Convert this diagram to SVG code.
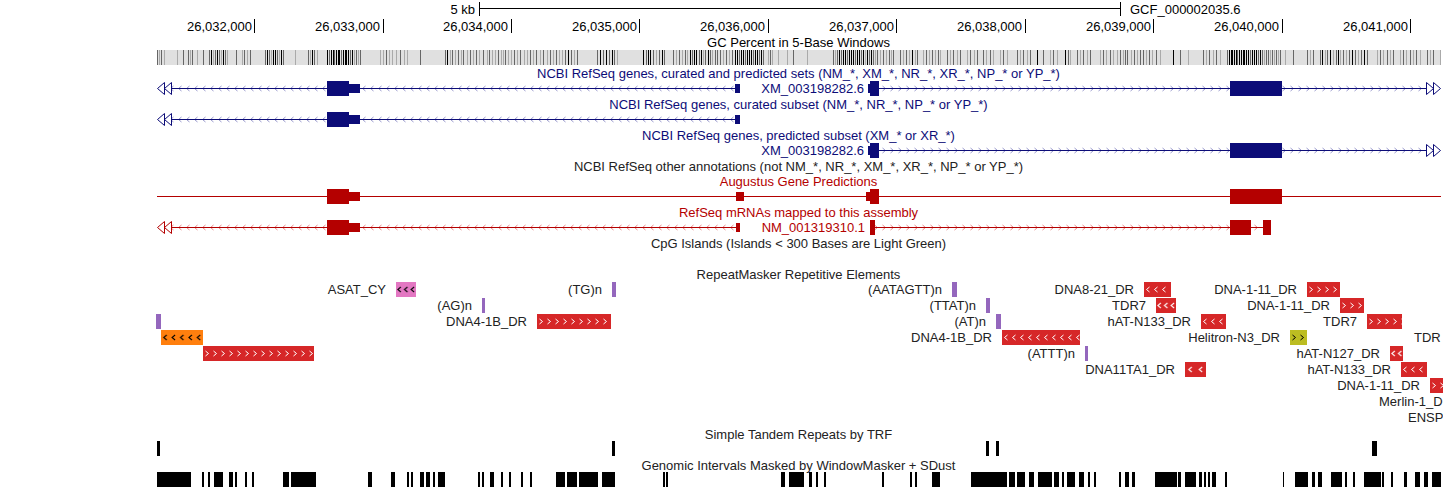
<svg xmlns="http://www.w3.org/2000/svg" width="1443" height="488" viewBox="0 0 1443 488">
<style>
.t{font-family:"Liberation Sans",Arial,Helvetica,sans-serif;font-size:13px}
.c{text-anchor:middle}
.e{text-anchor:end}
.nv{fill:#0c0c78}
.rd{fill:#b40000}
.bk{fill:#000}
.dk{fill:#222}
.rR{fill:#d62728}
.pu{fill:#9467bd}
.pk{fill:#e377c2}
.or{fill:#ff7f0e}
.ol{fill:#bcbd22}
</style>
<defs>
<pattern id="cLb" patternUnits="userSpaceOnUse" x="0" y="-4" width="8" height="9"><path d="M5.5,2L2.5,4.5L5.5,7" fill="none" stroke="#9898cc"/></pattern>
<pattern id="cRb" patternUnits="userSpaceOnUse" x="0" y="-4" width="8" height="9"><path d="M2.5,2L5.5,4.5L2.5,7" fill="none" stroke="#9898cc"/></pattern>
<pattern id="cLr" patternUnits="userSpaceOnUse" x="0" y="-4" width="8" height="9"><path d="M5.5,2L2.5,4.5L5.5,7" fill="none" stroke="#e88888"/></pattern>
<pattern id="cRr" patternUnits="userSpaceOnUse" x="0" y="-4" width="8" height="9"><path d="M2.5,2L5.5,4.5L2.5,7" fill="none" stroke="#e88888"/></pattern>
<pattern id="wR" patternUnits="userSpaceOnUse" x="0" y="0" width="8" height="15"><path d="M2.5,5L5.5,7.5L2.5,10" fill="none" stroke="#fff"/></pattern>
<pattern id="wL" patternUnits="userSpaceOnUse" x="0" y="0" width="8" height="15"><path d="M5.5,5L2.5,7.5L5.5,10" fill="none" stroke="#fff"/></pattern>
<pattern id="wL7" patternUnits="userSpaceOnUse" x="0" y="0" width="6.67" height="15"><path d="M4.8,5L1.8,7.5L4.8,10" fill="none" stroke="#fff"/></pattern>
<pattern id="wL10" patternUnits="userSpaceOnUse" x="0" y="0" width="10.5" height="15"><path d="M6.75,5L3.75,7.5L6.75,10" fill="none" stroke="#fff"/></pattern>
<pattern id="kR" patternUnits="userSpaceOnUse" x="0" y="0" width="8" height="15"><path d="M2.5,5L5.5,7.5L2.5,10" fill="none" stroke="#000"/></pattern>
<pattern id="kL" patternUnits="userSpaceOnUse" x="0" y="0" width="8.4" height="15"><path d="M5.7,5L2.7,7.5L5.7,10" fill="none" stroke="#000"/></pattern>
<pattern id="kL7" patternUnits="userSpaceOnUse" x="0" y="0" width="6.67" height="15"><path d="M4.8,5L1.8,7.5L4.8,10" fill="none" stroke="#000"/></pattern>
</defs>
<rect width="1443" height="488" fill="#fff"/>

<g id="ruler">
<text x="475" y="14" class="t e bk">5 kb</text>
<path d="M479.5,2v14M1120.5,2v14M479.5,8.5H1120.5" stroke="#000" fill="none"/>
<text x="1130" y="14" class="t bk">GCF_000002035.6</text>
<path d="M254.5,19v14M383.5,19v14M511.5,19v14M639.5,19v14M768.5,19v14M896.5,19v14M1025.5,19v14M1153.5,19v14M1282.5,19v14M1410.5,19v14" stroke="#000"/>
<text x="252" y="31" class="t e bk">26,032,000</text>
<text x="380" y="31" class="t e bk">26,033,000</text>
<text x="508" y="31" class="t e bk">26,034,000</text>
<text x="637" y="31" class="t e bk">26,035,000</text>
<text x="765" y="31" class="t e bk">26,036,000</text>
<text x="894" y="31" class="t e bk">26,037,000</text>
<text x="1022" y="31" class="t e bk">26,038,000</text>
<text x="1151" y="31" class="t e bk">26,039,000</text>
<text x="1279" y="31" class="t e bk">26,040,000</text>
<text x="1408" y="31" class="t e bk">26,041,000</text>
</g>

<g id="gc-percent">
<text x="798.5" y="47" class="t c bk">GC Percent in 5-Base Windows</text>
<rect x="157" y="50" width="1284" height="15" fill="#e0e0e0"/>
<path stroke="#aaa" fill="none" d="M159.5,50v15M164.5,50v15M177.5,50v15M190.5,50v15M197.5,50v15M213.5,50v15M221.5,50v15M227.5,50v15M242.5,50v15M247.5,50v15M271.5,50v15M279.5,50v15M295.5,50v15M310.5,50v15M317.5,50v15M354.5,50v15M358.5,50v15M380.5,50v15M383.5,50v15M389.5,50v15M392.5,50v15M396.5,50v15M404.5,50v15M407.5,50v15M450.5,50v15M455.5,50v15M461.5,50v15M467.5,50v15M473.5,50v15M479.5,50v15M487.5,50v15M492.5,50v15M495.5,50v15M501.5,50v15M503.5,50v15M508.5,50v15M511.5,50v15M517.5,50v15M524.5,50v15M527.5,50v15M533.5,50v15M540.5,50v15M547.5,50v15M553.5,50v15M559.5,50v15M562.5,50v15M574.5,50v15M617.5,50v15M656.5,50v15M676.5,50v15M682.5,50v15M687.5,50v15M703.5,50v15M712.5,50v15M723.5,50v15M729.5,50v15M768.5,50v15M772.5,50v15M778.5,50v15M787.5,50v15M807.5,50v15M835.5,50v15M865.5,50v15M875.5,50v15M880.5,50v15M886.5,50v15M891.5,50v15M903.5,50v15M909.5,50v15M915.5,50v15M923.5,50v15M929.5,50v15M935.5,50v15M940.5,50v15M950.5,50v15M957.5,50v15M967.5,50v15M974.5,50v15M986.5,50v15M993.5,50v15M1000.5,50v15M1007.5,50v15M1020.5,50v15M1027.5,50v15M1050.5,50v15M1057.5,50v15M1070.5,50v15M1080.5,50v15M1087.5,50v15M1100.5,50v15M1106.5,50v15M1113.5,50v15M1117.5,50v15M1123.5,50v15M1131.5,50v15M1137.5,50v15M1146.5,50v15M1152.5,50v15M1160.5,50v15M1188.5,50v15M1206.5,50v15M1213.5,50v15M1220.5,50v15M1264.5,50v15M1270.5,50v15M1274.5,50v15M1278.5,50v15M1285.5,50v15M1310.5,50v15M1325.5,50v15M1333.5,50v15M1340.5,50v15M1346.5,50v15M1358.5,50v15M1377.5,50v15M1383.5,50v15M1390.5,50v15M1400.5,50v15M1406.5,50v15M1413.5,50v15M1420.5,50v15M1430.5,50v15M1440.5,50v15"/>
<path stroke="#666" fill="none" d="M157.5,50v15M161.5,50v15M183.5,50v15M188.5,50v15M192.5,50v15M203.5,50v15M209.5,50v15M215.5,50v15M219.5,50v15M225.5,50v15M236.5,50v15M244.5,50v15M250.5,50v15M265.5,50v15M269.5,50v15M277.5,50v15M283.5,50v15M308.5,50v15M314.5,50v15M329.5,50v15M334.5,50v15M341.5,50v15M350.5,50v15M356.5,50v15M360.5,50v15M386.5,50v15M400.5,50v15M420.5,50v15M445.5,50v15M452.5,50v15M458.5,50v15M463.5,50v15M470.5,50v15M476.5,50v15M483.5,50v15M489.5,50v15M498.5,50v15M505.5,50v15M514.5,50v15M520.5,50v15M530.5,50v15M536.5,50v15M543.5,50v15M550.5,50v15M556.5,50v15M565.5,50v15M571.5,50v15M577.5,50v15M597.5,50v15M603.5,50v15M609.5,50v15M614.5,50v15M646.5,50v15M653.5,50v15M659.5,50v15M664.5,50v15M673.5,50v15M679.5,50v15M685.5,50v15M692.5,50v15M699.5,50v15M705.5,50v15M710.5,50v15M715.5,50v15M717.5,50v15M720.5,50v15M726.5,50v15M732.5,50v15M739.5,50v15M745.5,50v15M753.5,50v15M759.5,50v15M763.5,50v15M770.5,50v15M793.5,50v15M833.5,50v15M837.5,50v15M841.5,50v15M847.5,50v15M855.5,50v15M861.5,50v15M869.5,50v15M873.5,50v15M877.5,50v15M883.5,50v15M889.5,50v15M893.5,50v15M900.5,50v15M906.5,50v15M917.5,50v15M926.5,50v15M932.5,50v15M938.5,50v15M947.5,50v15M953.5,50v15M960.5,50v15M970.5,50v15M977.5,50v15M983.5,50v15M990.5,50v15M1003.5,50v15M1017.5,50v15M1023.5,50v15M1030.5,50v15M1043.5,50v15M1053.5,50v15M1068.5,50v15M1077.5,50v15M1083.5,50v15M1090.5,50v15M1103.5,50v15M1110.5,50v15M1120.5,50v15M1125.5,50v15M1127.5,50v15M1134.5,50v15M1140.5,50v15M1143.5,50v15M1149.5,50v15M1156.5,50v15M1180.5,50v15M1203.5,50v15M1209.5,50v15M1216.5,50v15M1227.5,50v15M1237.5,50v15M1250.5,50v15M1258.5,50v15M1262.5,50v15M1266.5,50v15M1268.5,50v15M1272.5,50v15M1276.5,50v15M1280.5,50v15M1293.5,50v15M1307.5,50v15M1313.5,50v15M1320.5,50v15M1327.5,50v15M1336.5,50v15M1343.5,50v15M1349.5,50v15M1355.5,50v15M1361.5,50v15M1367.5,50v15M1380.5,50v15M1387.5,50v15M1393.5,50v15M1403.5,50v15M1410.5,50v15M1416.5,50v15M1427.5,50v15M1433.5,50v15"/>
<path stroke="#000" fill="none" d="M211.5,50v15M217.5,50v15M223.5,50v15M267.5,50v15M273.5,50v15M275.5,50v15M281.5,50v15M312.5,50v15M327.5,50v15M331.5,50v15M333.5,50v15M336.5,50v15M338.5,50v15M339.5,50v15M343.5,50v15M345.5,50v15M346.5,50v15M348.5,50v15M352.5,50v15M447.5,50v15M568.5,50v15M600.5,50v15M606.5,50v15M612.5,50v15M643.5,50v15M648.5,50v15M650.5,50v15M662.5,50v15M690.5,50v15M694.5,50v15M696.5,50v15M701.5,50v15M708.5,50v15M735.5,50v15M737.5,50v15M741.5,50v15M743.5,50v15M747.5,50v15M749.5,50v15M751.5,50v15M755.5,50v15M757.5,50v15M761.5,50v15M839.5,50v15M843.5,50v15M845.5,50v15M849.5,50v15M851.5,50v15M853.5,50v15M857.5,50v15M859.5,50v15M863.5,50v15M867.5,50v15M871.5,50v15M912.5,50v15M1037.5,50v15M1065.5,50v15M1173.5,50v15M1229.5,50v15M1231.5,50v15M1232.5,50v15M1234.5,50v15M1236.5,50v15M1239.5,50v15M1241.5,50v15M1243.5,50v15M1244.5,50v15M1246.5,50v15M1248.5,50v15M1252.5,50v15M1254.5,50v15M1256.5,50v15M1260.5,50v15M1322.5,50v15M1330.5,50v15M1338.5,50v15M1352.5,50v15M1364.5,50v15"/>
</g>

<g id="refseq-all">
<text x="798.5" y="78" class="t c nv">NCBI RefSeq genes, curated and predicted sets (NM_*, XM_*, NR_*, XR_*, NP_* or YP_*)</text>
<g transform="translate(0,88)">
<rect x="171" y="-4" width="564" height="9" fill="url(#cLb)"/>
<rect x="171" y="0" width="564" height="1" class="nv"/>
<path d="M164.5,-5.5L157.5,0.5L164.5,6.5ZM171.5,-5.5L164.5,0.5L171.5,6.5Z" fill="#fff" stroke="#0c0c78"/>
<rect x="327" y="-7" width="22" height="15" class="nv"/>
<rect x="349" y="-4" width="11" height="9" class="nv"/>
<rect x="735" y="-4" width="5" height="9" class="nv"/>
<text x="864" y="5" class="t e nv">XM_003198282.6</text>
<rect x="879" y="-4" width="547" height="9" fill="url(#cRb)"/>
<rect x="879" y="0" width="547" height="1" class="nv"/>
<rect x="868" y="-4" width="2" height="9" class="nv"/>
<rect x="870" y="-7" width="9" height="15" class="nv"/>
<rect x="1230" y="-7" width="52" height="15" class="nv"/>
<path d="M1426.5,-5.5L1433.5,0.5L1426.5,6.5ZM1433.5,-5.5L1440.5,0.5L1433.5,6.5Z" fill="#fff" stroke="#0c0c78"/>
</g>
</g>

<g id="refseq-curated">
<text x="798.5" y="109" class="t c nv">NCBI RefSeq genes, curated subset (NM_*, NR_*, NP_* or YP_*)</text>
<g transform="translate(0,119)">
<rect x="171" y="-4" width="564" height="9" fill="url(#cLb)"/>
<rect x="171" y="0" width="564" height="1" class="nv"/>
<path d="M164.5,-5.5L157.5,0.5L164.5,6.5ZM171.5,-5.5L164.5,0.5L171.5,6.5Z" fill="#fff" stroke="#0c0c78"/>
<rect x="327" y="-7" width="22" height="15" class="nv"/>
<rect x="349" y="-4" width="11" height="9" class="nv"/>
<rect x="735" y="-4" width="5" height="9" class="nv"/>
</g>
</g>

<g id="refseq-predicted">
<text x="798.5" y="140" class="t c nv">NCBI RefSeq genes, predicted subset (XM_* or XR_*)</text>
<g transform="translate(0,150)">
<text x="864" y="5" class="t e nv">XM_003198282.6</text>
<rect x="879" y="-4" width="547" height="9" fill="url(#cRb)"/>
<rect x="879" y="0" width="547" height="1" class="nv"/>
<rect x="868" y="-4" width="2" height="9" class="nv"/>
<rect x="870" y="-7" width="9" height="15" class="nv"/>
<rect x="1230" y="-7" width="52" height="15" class="nv"/>
<path d="M1426.5,-5.5L1433.5,0.5L1426.5,6.5ZM1433.5,-5.5L1440.5,0.5L1433.5,6.5Z" fill="#fff" stroke="#0c0c78"/>
</g>
</g>

<g id="refseq-other">
<text x="798.5" y="171" class="t c dk">NCBI RefSeq other annotations (not NM_*, NR_*, XM_*, XR_*, NP_* or YP_*)</text>
</g>

<g id="augustus">
<text x="798.5" y="186" class="t c rd">Augustus Gene Predictions</text>
<g transform="translate(0,196)">
<rect x="157" y="0" width="1284" height="1" class="rd"/>
<rect x="327" y="-7" width="22" height="15" class="rd"/>
<rect x="349" y="-4" width="11" height="9" class="rd"/>
<rect x="736" y="-4" width="8" height="9" class="rd"/>
<rect x="866" y="-4" width="4" height="9" class="rd"/>
<rect x="870" y="-7" width="9" height="15" class="rd"/>
<rect x="1230" y="-7" width="52" height="15" class="rd"/>
</g>
</g>

<g id="refseq-mrna">
<text x="798.5" y="217" class="t c rd">RefSeq mRNAs mapped to this assembly</text>
<g transform="translate(0,227)">
<rect x="171" y="-4" width="565" height="9" fill="url(#cLr)"/>
<rect x="171" y="0" width="565" height="1" class="rd"/>
<path d="M164.5,-5.5L157.5,0.5L164.5,6.5ZM171.5,-5.5L164.5,0.5L171.5,6.5Z" fill="#fff" stroke="#b40000"/>
<rect x="327" y="-7" width="22" height="15" class="rd"/>
<rect x="349" y="-4" width="11" height="9" class="rd"/>
<rect x="736" y="-4" width="4" height="9" class="rd"/>
<text x="865" y="5" class="t e rd">NM_001319310.1</text>
<rect x="875" y="-4" width="355" height="9" fill="url(#cRr)"/>
<rect x="875" y="0" width="355" height="1" class="rd"/>
<rect x="870" y="-7" width="5" height="15" class="rd"/>
<rect x="1230" y="-7" width="21" height="15" class="rd"/>
<path d="M1254.5,-2L1257.5,0.5L1254.5,3" fill="none" stroke="#e88888"/>
<rect x="1251" y="0" width="12" height="1" class="rd"/>
<rect x="1263" y="-7" width="8" height="15" class="rd"/>
</g>
</g>

<g id="cpg-islands">
<text x="798.5" y="248" class="t c dk">CpG Islands (Islands &lt; 300 Bases are Light Green)</text>
</g>

<g id="repeatmasker">
<text x="798.5" y="279" class="t c dk">RepeatMasker Repetitive Elements</text>
<g id="rm-asat-cy" transform="translate(396,282)"><rect width="20" height="15" class="pk"/><rect width="20" height="15" fill="url(#kL7)"/><text x="-10" y="12" class="t e dk">ASAT_CY</text></g>
<g id="rm-tg" transform="translate(612,282)"><rect width="4" height="15" class="pu"/><text x="-10" y="12" class="t e dk">(TG)n</text></g>
<g id="rm-aatagtt" transform="translate(952,282)"><rect width="5" height="15" class="pu"/><text x="-10" y="12" class="t e dk">(AATAGTT)n</text></g>
<g id="rm-dna8-21" transform="translate(1144,282)"><rect width="27" height="15" class="rR"/><rect x="1" width="25" height="15" fill="url(#wL)"/><text x="-10" y="12" class="t e dk">DNA8-21_DR</text></g>
<g id="rm-dna-1-11-a" transform="translate(1307,282)"><rect width="33" height="15" class="rR"/><rect width="33" height="15" fill="url(#wR)"/><text x="-10" y="12" class="t e dk">DNA-1-11_DR</text></g>

<g id="rm-ag" transform="translate(482,298)"><rect width="3" height="15" class="pu"/><text x="-10" y="12" class="t e dk">(AG)n</text></g>
<g id="rm-ttat" transform="translate(986,298)"><rect width="4" height="15" class="pu"/><text x="-10" y="12" class="t e dk">(TTAT)n</text></g>
<g id="rm-tdr7-a" transform="translate(1156,298)"><rect width="20" height="15" class="rR"/><rect width="20" height="15" fill="url(#wL7)"/><text x="-10" y="12" class="t e dk">TDR7</text></g>
<g id="rm-dna-1-11-b" transform="translate(1340,298)"><rect width="24" height="15" class="rR"/><rect width="24" height="15" fill="url(#wR)"/><text x="-10" y="12" class="t e dk">DNA-1-11_DR</text></g>

<g id="rm-simple-left" transform="translate(156,314)"><rect width="5" height="15" class="pu"/></g>
<g id="rm-dna4-1b-a" transform="translate(537,314)"><rect width="74" height="15" class="rR"/><rect width="74" height="15" fill="url(#wR)"/><text x="-10" y="12" class="t e dk">DNA4-1B_DR</text></g>
<g id="rm-at" transform="translate(996,314)"><rect width="5" height="15" class="pu"/><text x="-10" y="12" class="t e dk">(AT)n</text></g>
<g id="rm-hat-n133-a" transform="translate(1201,314)"><rect width="25" height="15" class="rR"/><rect width="25" height="15" fill="url(#wL)"/><text x="-10" y="12" class="t e dk">hAT-N133_DR</text></g>
<g id="rm-tdr7-b" transform="translate(1367,314)"><rect width="35" height="15" class="rR"/><rect width="35" height="15" fill="url(#wR)"/><text x="-10" y="12" class="t e dk">TDR7</text></g>

<g id="rm-orange" transform="translate(161,330)"><rect width="42" height="15" class="or"/><rect width="42" height="15" fill="url(#kL)"/></g>
<g id="rm-dna4-1b-b" transform="translate(1002,330)"><rect width="78" height="15" class="rR"/><rect width="78" height="15" fill="url(#wL)"/><text x="-10" y="12" class="t e dk">DNA4-1B_DR</text></g>
<g id="rm-helitron" transform="translate(1290,330)"><rect width="17" height="15" class="ol"/><rect width="17" height="15" fill="url(#kR)"/><text x="-10" y="12" class="t e dk">Helitron-N3_DR</text></g>
<g id="rm-tdr7-c"><text x="1414" y="342" class="t dk">TDR</text></g>

<g id="rm-red-left" transform="translate(203,346)"><rect width="111" height="15" class="rR"/><rect width="111" height="15" fill="url(#wR)"/></g>
<g id="rm-attt" transform="translate(1085,346)"><rect width="3" height="15" class="pu"/><text x="-10" y="12" class="t e dk">(ATTT)n</text></g>
<g id="rm-hat-n127" transform="translate(1390,346)"><rect width="13" height="15" class="rR"/><rect width="13" height="15" fill="url(#wL7)"/><text x="-10" y="12" class="t e dk">hAT-N127_DR</text></g>

<g id="rm-dna11ta1" transform="translate(1185,362)"><rect width="21" height="15" class="rR"/><rect width="21" height="15" fill="url(#wL10)"/><text x="-10" y="12" class="t e dk">DNA11TA1_DR</text></g>
<g id="rm-hat-n133-b" transform="translate(1401,362)"><rect width="26" height="15" class="rR"/><rect width="26" height="15" fill="url(#wL)"/><text x="-10" y="12" class="t e dk">hAT-N133_DR</text></g>

<g id="rm-dna-1-11-c" transform="translate(1430,378)"><rect width="13" height="15" class="rR"/><rect width="13" height="15" fill="url(#wR)"/><text x="-10" y="12" class="t e dk">DNA-1-11_DR</text></g>
<g id="rm-merlin"><text x="1379" y="406" class="t dk">Merlin-1_D</text></g>
<g id="rm-ensp"><text x="1408" y="422" class="t dk">ENSP</text></g>
</g>

<g id="trf">
<text x="798.5" y="439" class="t c dk">Simple Tandem Repeats by TRF</text>
<path class="bk" d="M157,441h3v15h-3zM612,441h3v15h-3zM986,441h3v15h-3zM996,441h3v15h-3zM1372,441h5v15h-5z"/>
</g>

<g id="windowmasker">
<text x="798.5" y="470" class="t c dk">Genomic Intervals Masked by WindowMasker + SDust</text>
<path class="bk" d="M157,472h34v15h-34zM202,472h2v15h-2zM208,472h2v15h-2zM214,472h9v15h-9zM229,472h4v15h-4zM235,472h2v15h-2zM245,472h2v15h-2zM252,472h2v15h-2zM283,472h6v15h-6zM291,472h25v15h-25zM368,472h4v15h-4zM391,472h4v15h-4zM407,472h2v15h-2zM411,472h2v15h-2zM420,472h4v15h-4zM426,472h4v15h-4zM433,472h2v15h-2zM438,472h7v15h-7zM478,472h2v15h-2zM482,472h2v15h-2zM490,472h4v15h-4zM501,472h2v15h-2zM509,472h2v15h-2zM521,472h2v15h-2zM530,472h2v15h-2zM556,472h9v15h-9zM567,472h10v15h-10zM579,472h19v15h-19zM602,472h13v15h-13zM663,472h2v15h-2zM666,472h2v15h-2zM781,472h4v15h-4zM789,472h15v15h-15zM809,472h3v15h-3zM816,472h2v15h-2zM824,472h2v15h-2zM882,472h2v15h-2zM910,472h2v15h-2zM915,472h2v15h-2zM932,472h8v15h-8zM971,472h36v15h-36zM1009,472h6v15h-6zM1017,472h8v15h-8zM1029,472h5v15h-5zM1038,472h14v15h-14zM1054,472h5v15h-5zM1062,472h2v15h-2zM1067,472h8v15h-8zM1079,472h5v15h-5zM1088,472h2v15h-2zM1094,472h2v15h-2zM1119,472h2v15h-2zM1125,472h4v15h-4zM1132,472h3v15h-3zM1155,472h22v15h-22zM1178,472h3v15h-3zM1185,472h11v15h-11zM1199,472h3v15h-3zM1204,472h2v15h-2zM1208,472h2v15h-2zM1212,472h4v15h-4zM1225,472h2v15h-2zM1283,472h1v15h-1zM1295,472h13v15h-13zM1312,472h3v15h-3zM1318,472h4v15h-4zM1331,472h11v15h-11zM1345,472h2v15h-2zM1353,472h2v15h-2zM1364,472h17v15h-17zM1382,472h2v15h-2zM1391,472h2v15h-2zM1404,472h3v15h-3zM1415,472h5v15h-5zM1424,472h4v15h-4zM1432,472h9v15h-9z"/>
</g>
</svg>
